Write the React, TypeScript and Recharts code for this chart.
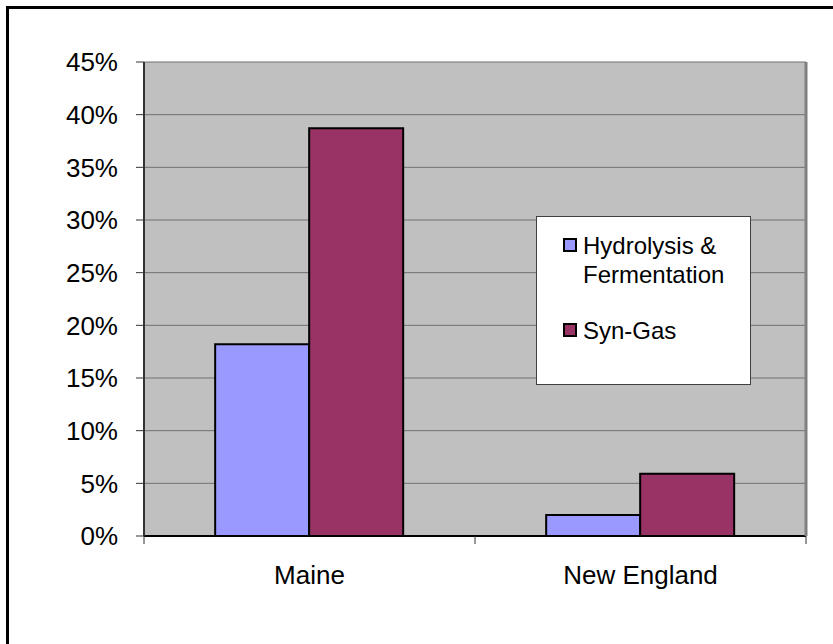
import React from "react";
import { BarChart, Bar, XAxis, YAxis, CartesianGrid, Legend } from "recharts";

const regions = ["Maine", "New England"];
const hydrolysis = [18.2, 2.0];
const synGas = [38.7, 5.9];
const yTicks = [0, 5, 10, 15, 20, 25, 30, 35, 40, 45];

const data = regions.map((region, i) => ({
  region,
  hydrolysis: hydrolysis[i],
  synGas: synGas[i],
}));

const FONT = "Arial, 'Liberation Sans', sans-serif";

const CHART_W = 833;
const CHART_H = 644;
const MARGIN = { top: 62, right: 0, bottom: 48, left: 0 };
const Y_AXIS_W = 144;
const FRAME_W = 27;
const X_AXIS_H = 60;
const PLOT_BOTTOM = CHART_H - MARGIN.bottom - X_AXIS_H;
const HALF_BAND = (CHART_W - Y_AXIS_W - FRAME_W) / regions.length / 2;

// category label with tick marks on the category boundaries
function CategoryTick({ x, y, payload, index }: any) {
  const isLast = index === regions.length - 1;
  return (
    <g>
      <line x1={x - HALF_BAND} x2={x - HALF_BAND} y1={PLOT_BOTTOM} y2={PLOT_BOTTOM + 8} stroke="#333" />
      {isLast && (
        <line x1={x + HALF_BAND} x2={x + HALF_BAND} y1={PLOT_BOTTOM} y2={PLOT_BOTTOM + 8} stroke="#333" />
      )}
      <text x={x} y={y} dy="0.71em" textAnchor="middle" fontSize={26} fill="#000" fontFamily={FONT}>
        {payload.value}
      </text>
    </g>
  );
}

function LegendBox({ payload }: any) {
  return (
    <div
      style={{
        width: 215,
        height: 169,
        boxSizing: "border-box",
        border: "1.5px solid #404040",
        background: "#fff",
        padding: "14px 0 0 26px",
        fontFamily: FONT,
        fontSize: 24,
        lineHeight: "29px",
        color: "#000",
      }}
    >
      {(payload || []).map((p: any, i: number) => (
        <div key={i} style={{ display: "flex", alignItems: "flex-start", marginBottom: 27 }}>
          <span
            style={{
              display: "inline-block",
              width: 10,
              height: 10,
              border: "2px solid #000",
              background: p.color,
              marginTop: 7,
              marginRight: 6,
              flexShrink: 0,
            }}
          />
          <span style={{ width: 150 }}>{p.value}</span>
        </div>
      ))}
    </div>
  );
}

export default function App() {
  return (
    <div
      style={{
        position: "absolute",
        left: 0,
        top: 0,
        width: CHART_W,
        height: CHART_H,
        overflow: "hidden",
        background: "#fff",
      }}
    >
      <div
        style={{
          position: "absolute",
          left: 6,
          top: 6,
          width: 900,
          height: 700,
          borderTop: "3px solid #000",
          borderLeft: "3px solid #000",
        }}
      />
      <div style={{ position: "absolute", left: 0, top: 0 }}>
        <BarChart
          width={CHART_W}
          height={CHART_H}
          data={data}
          margin={MARGIN}
          barCategoryGap="21.5%"
          barGap={0}
        >
          <CartesianGrid vertical={false} fill="#C0C0C0" fillOpacity={1} stroke="#707070" />
          <XAxis
            dataKey="region"
            height={X_AXIS_H}
            tickLine={false}
            tickSize={8}
            tickMargin={22}
            interval={0}
            axisLine={{ stroke: "#000", strokeWidth: 2 }}
            tick={<CategoryTick />}
          />
          <YAxis
            domain={[0, 45]}
            ticks={yTicks}
            tickFormatter={(v) => `${v}%`}
            width={Y_AXIS_W}
            tickSize={8}
            tickMargin={18}
            interval={0}
            axisLine={{ stroke: "#333", strokeWidth: 2 }}
            tickLine={{ stroke: "#333" }}
            tick={{ fontSize: 26, fill: "#000", fontFamily: FONT }}
          />
          <YAxis
            yAxisId="frame"
            orientation="right"
            domain={[0, 45]}
            width={FRAME_W}
            tick={false}
            tickLine={false}
            axisLine={{ stroke: "#808080", strokeWidth: 3 }}
          />
          <Legend
            layout="vertical"
            align="center"
            verticalAlign="middle"
            content={<LegendBox />}
            wrapperStyle={{ position: "absolute", left: 536, top: 216, width: 215, height: 169 }}
          />
          <Bar
            dataKey="hydrolysis"
            name="Hydrolysis & Fermentation"
            fill="#9999FF"
            stroke="#000"
            strokeWidth={2}
            isAnimationActive={false}
          />
          <Bar
            dataKey="synGas"
            name="Syn-Gas"
            fill="#993366"
            stroke="#000"
            strokeWidth={2}
            isAnimationActive={false}
          />
        </BarChart>
      </div>
    </div>
  );
}
